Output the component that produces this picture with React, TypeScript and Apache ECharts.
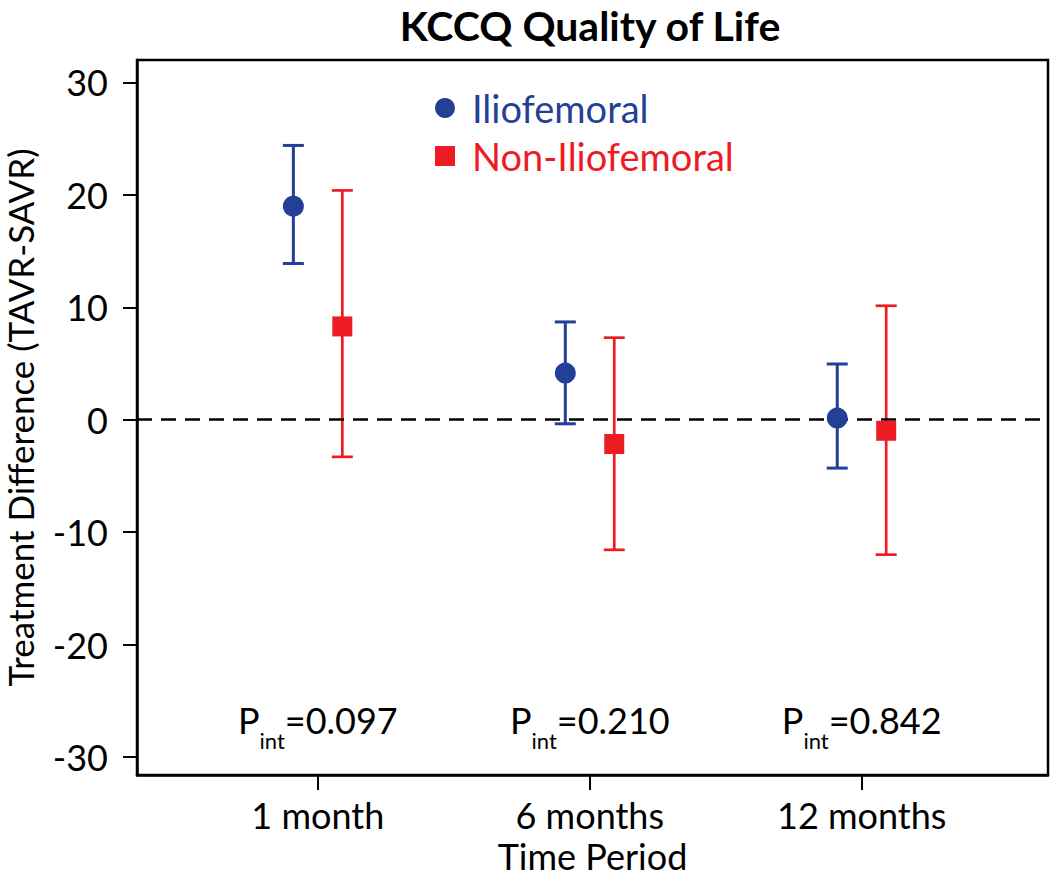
import React, { useEffect, useRef } from 'react';
import * as echarts from 'echarts';

const categories = ['1 month', '6 months', '12 months'];
const catPositions = [1, 2, 3];
const ilioMean = [19.0, 4.15, 0.15];
const ilioLower = [13.9, -0.36, -4.3];
const ilioUpper = [24.4, 8.7, 4.96];
const nonMean = [8.3, -2.16, -0.98];
const nonLower = [-3.3, -11.57, -12.0];
const nonUpper = [20.4, 7.3, 10.14];
const pInteraction = ['0.097', '0.210', '0.842'];
const yTickValues = [-30, -20, -10, 0, 10, 20, 30];
const seriesNames = ['Iliofemoral', 'Non-Iliofemoral'];

const BLUE = '#233f96';
const RED = '#ed1c24';
const FONT = 'Lato';
const OFFSET = 0.09;
const P_LABEL_Y = -28.5;

const errorBarRender = (color: string, width: number) => (params: any, api: any) => {
  const x = api.value(0);
  const top = api.coord([x, api.value(2)]);
  const bot = api.coord([x, api.value(1)]);
  const hw = 10.5;
  const style = { stroke: color, lineWidth: width, fill: 'none' };
  return {
    type: 'group',
    children: [
      { type: 'line', shape: { x1: top[0], y1: top[1], x2: bot[0], y2: bot[1] }, style },
      { type: 'line', shape: { x1: top[0] - hw, y1: top[1], x2: top[0] + hw, y2: top[1] }, style },
      { type: 'line', shape: { x1: bot[0] - hw, y1: bot[1], x2: bot[0] + hw, y2: bot[1] }, style },
    ],
  };
};

export default function App() {
  const ref = useRef<HTMLDivElement>(null);
  useEffect(() => {
    if (!ref.current) return;
    const chart = echarts.init(ref.current, undefined, { renderer: 'svg' });
    const option: any = {
      animation: false,
      backgroundColor: '#ffffff',
      graphic: [
        {
          type: 'text',
          x: 590,
          y: 25,
          style: {
            text: 'KCCQ Quality of Life',
            fontFamily: FONT,
            fontWeight: 'bold',
            fontSize: 41,
            lineHeight: 40,
            fill: '#000',
            textAlign: 'center',
            textVerticalAlign: 'middle',
          },
        },
      ],
      legend: {
        orient: 'vertical',
        left: 435,
        top: 88,
        padding: 0,
        itemWidth: 20,
        itemHeight: 20,
        itemGap: 8,
        selectedMode: false,
        data: [
          { name: seriesNames[0], icon: 'circle', textStyle: { color: BLUE } },
          { name: seriesNames[1], icon: 'rect', textStyle: { color: RED } },
        ],
        textStyle: {
          fontFamily: FONT,
          fontSize: 38,
          lineHeight: 40,
          padding: [0, 0, 0, 12],
        },
      },
      grid: {
        left: 137,
        right: 2,
        top: 60,
        bottom: 102,
        show: true,
        outerBoundsMode: 'none',
        containLabel: false,
        borderColor: '#000',
        borderWidth: 2.5,
        backgroundColor: 'transparent',
      },
      xAxis: {
        type: 'value',
        min: 0.335,
        max: 3.685,
        name: 'Time Period',
        nameLocation: 'middle',
        nameGap: 62,
        nameTextStyle: { fontFamily: FONT, fontSize: 36, color: '#000' },
        axisLine: { show: true, onZero: false, lineStyle: { color: '#000', width: 2.5 } },
        axisTick: { show: true, length: 15, customValues: catPositions, lineStyle: { color: '#000', width: 2 } },
        axisLabel: {
          show: true,
          customValues: catPositions,
          margin: 22,
          fontFamily: FONT,
          fontSize: 36,
          color: '#000',
          formatter: (v: number) => {
            const i = catPositions.indexOf(v);
            return i >= 0 ? categories[i] : '';
          },
        },
        splitLine: { show: false },
      },
      yAxis: {
        type: 'value',
        min: -31.6,
        max: 32,
        name: 'Treatment Difference (TAVR-SAVR)',
        nameLocation: 'middle',
        nameGap: 100,
        nameRotate: 90,
        nameTextStyle: { fontFamily: FONT, fontSize: 35, color: '#000' },
        axisLine: { show: true, onZero: false, lineStyle: { color: '#000', width: 2.5 } },
        axisTick: { show: true, length: 14, customValues: yTickValues, lineStyle: { color: '#000', width: 2 } },
        axisLabel: {
          show: true,
          customValues: yTickValues,
          margin: 29,
          fontFamily: FONT,
          fontSize: 36,
          color: '#000',
        },
        splitLine: { show: false },
      },
      series: [
        {
          name: 'Iliofemoral CI',
          type: 'custom',
          renderItem: errorBarRender(BLUE, 3),
          encode: { x: 0, y: [1, 2] },
          data: catPositions.map((c, i) => [c - OFFSET, ilioLower[i], ilioUpper[i]]),
          z: 3,
          silent: true,
          markLine: {
            silent: true,
            symbol: 'none',
            label: { show: false },
            lineStyle: { color: '#000', width: 2.5, type: [15, 9] },
            data: [{ yAxis: 0 }],
          },
        },
        {
          name: 'Non-Iliofemoral CI',
          type: 'custom',
          renderItem: errorBarRender(RED, 2.7),
          encode: { x: 0, y: [1, 2] },
          data: catPositions.map((c, i) => [c + OFFSET, nonLower[i], nonUpper[i]]),
          z: 3,
          silent: true,
        },
        {
          name: seriesNames[0],
          type: 'scatter',
          symbol: 'circle',
          symbolSize: 21,
          itemStyle: { color: BLUE, opacity: 1 },
          data: catPositions.map((c, i) => [c - OFFSET, ilioMean[i]]),
          z: 5,
        },
        {
          name: seriesNames[1],
          type: 'scatter',
          symbol: 'rect',
          symbolSize: 20,
          itemStyle: { color: RED, opacity: 1 },
          data: catPositions.map((c, i) => [c + OFFSET, nonMean[i]]),
          z: 5,
        },
        {
          name: 'Pint',
          type: 'scatter',
          symbolSize: 0,
          silent: true,
          itemStyle: { color: '#000', opacity: 1 },
          data: catPositions.map((c) => [c, P_LABEL_Y]),
          label: {
            show: true,
            position: 'inside',
            color: '#000',
            opacity: 1,
            textBorderWidth: 0,
            textBorderColor: 'transparent',
            formatter: (p: any) => `{p|P}{s|int}{v|=${pInteraction[p.dataIndex]}}`,
            rich: {
              p: { fontFamily: FONT, fontSize: 36, color: '#000', textBorderWidth: 0, lineHeight: 40, verticalAlign: 'top' },
              s: { fontFamily: FONT, fontSize: 22, color: '#000', textBorderWidth: 0, lineHeight: 76, verticalAlign: 'middle' },
              v: { fontFamily: FONT, fontSize: 36, color: '#000', textBorderWidth: 0, lineHeight: 40, verticalAlign: 'top' },
            },
          },
        },
      ],
    };
    chart.setOption(option);
    return () => chart.dispose();
  }, []);
  return (
    <div
      ref={ref}
      style={{ position: 'fixed', left: 0, top: 0, width: 1050, height: 877, background: '#fff' }}
    />
  );
}
